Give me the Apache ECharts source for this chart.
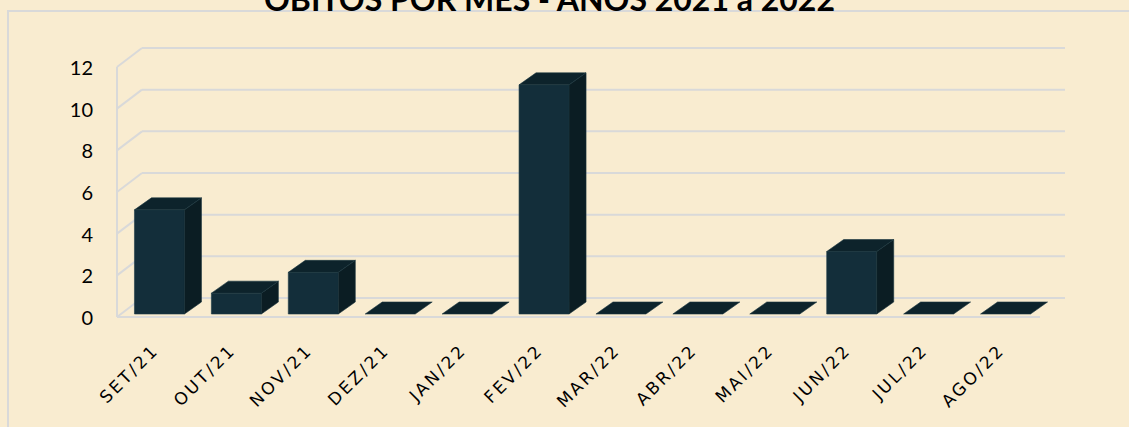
<!DOCTYPE html>
<html>
<head>
<meta charset="utf-8">
<script src="https://cdn.jsdelivr.net/npm/echarts@6/dist/echarts.min.js"></script>
<style>
html,body{margin:0;padding:0;background:#f9ecd0;overflow:hidden;}
#c{width:1129px;height:427px;}
#c text[style*="DejaVu"]{letter-spacing:2.6px;}
</style>
</head>
<body>
<div id="c"></div>
<script>
const titleText = 'ÓBITOS POR MÊS - ANOS 2021 a 2022';
const categories = ['SET/21','OUT/21','NOV/21','DEZ/21','JAN/22','FEV/22','MAR/22','ABR/22','MAI/22','JUN/22','JUL/22','AGO/22'];
const deaths = [5, 1, 2, 0, 0, 11, 0, 0, 0, 3, 0, 0];
const yTicks = [0, 2, 4, 6, 8, 10, 12];

const WALL_DX = 25, WALL_DY = -19;
const BAR_OFF_X = 4, BAR_OFF_Y = -3;
const BAR_DX = 17, BAR_DY = -12;
const GRID_COLOR = '#d9d9d9';

const chart = echarts.init(document.getElementById('c'), null, {renderer: 'svg'});

function renderWall(params, api) {
  const v = api.value(1);
  const bw = api.size([1, 0])[0];
  const p = api.coord([0, v]);
  const L = p[0] - bw / 2;
  const R = api.coord([categories.length - 1, v])[0] + bw / 2;
  const y = p[1];
  const st = {stroke: GRID_COLOR, lineWidth: 2, fill: null};
  const children = [
    {type: 'line', shape: {x1: L, y1: y, x2: L + WALL_DX, y2: y + WALL_DY}, style: st},
    {type: 'line', shape: {x1: L + WALL_DX, y1: y + WALL_DY, x2: R + WALL_DX, y2: y + WALL_DY}, style: st}
  ];
  if (v === 0) {
    const yTop = api.coord([0, yTicks[yTicks.length - 1]])[1];
    children.push({type: 'line', shape: {x1: L, y1: y, x2: L, y2: yTop}, style: st});
    children.push({type: 'line', shape: {x1: L, y1: y, x2: R, y2: y}, style: st});
  }
  return {type: 'group', children: children};
}

function renderBar(params, api) {
  const idx = api.value(0);
  const val = api.value(1);
  const bw = api.size([1, 0])[0];
  const w = bw * 0.65;
  const top = api.coord([idx, val]);
  const base = api.coord([idx, 0]);
  const x0 = top[0] - w / 2 + BAR_OFF_X;
  const x1 = x0 + w;
  const yt = top[1] + BAR_OFF_Y;
  const yb = base[1] + BAR_OFF_Y;
  const children = [];
  if (yb - yt > 0.5) {
    children.push({type: 'polygon', shape: {points: [[x0, yt], [x1, yt], [x1, yb], [x0, yb]]},
      style: {fill: '#132e3a', stroke: '#1d3a46', lineWidth: 0.6}});
    children.push({type: 'polygon', shape: {points: [[x1, yt], [x1 + BAR_DX, yt + BAR_DY], [x1 + BAR_DX, yb + BAR_DY], [x1, yb]]},
      style: {fill: '#0b1d23', stroke: '#15303a', lineWidth: 0.6}});
  }
  children.push({type: 'polygon', shape: {points: [[x0, yt], [x1, yt], [x1 + BAR_DX, yt + BAR_DY], [x0 + BAR_DX, yt + BAR_DY]]},
    style: {fill: '#0d232b', stroke: '#1a3540', lineWidth: 0.6}});
  return {type: 'group', children: children};
}

chart.setOption({
  backgroundColor: '#f9ecd0',
  animation: false,
  title: {
    text: titleText,
    left: 259,
    top: -23,
    textStyle: {fontFamily: 'Lato', fontWeight: 'bold', fontSize: 32, color: '#000'}
  },
  graphic: [{
    type: 'rect', shape: {x: 8, y: 11, width: 1400, height: 600},
    style: {fill: null, stroke: GRID_COLOR, lineWidth: 2}, silent: true, z: -1
  }],
  grid: {left: 117, right: 89, top: 67, bottom: 110},
  xAxis: {
    type: 'category',
    data: categories,
    axisLine: {show: false},
    axisTick: {show: false},
    axisLabel: {rotate: 45, margin: 30, interval: 0, fontFamily: 'DejaVu Sans', fontSize: 17, color: '#000'}
  },
  yAxis: {
    type: 'value', min: 0, max: 12, interval: 2,
    axisLine: {show: false}, axisTick: {show: false}, splitLine: {show: false},
    axisLabel: {margin: 24, fontFamily: 'Lato', fontSize: 20, color: '#000'}
  },
  series: [
    {type: 'custom', renderItem: renderWall, data: yTicks.map(v => [0, v]), z: 1, silent: true},
    {type: 'custom', renderItem: renderBar, data: deaths.map((v, i) => [i, v]), z: 2}
  ]
});
</script>
</body>
</html>
